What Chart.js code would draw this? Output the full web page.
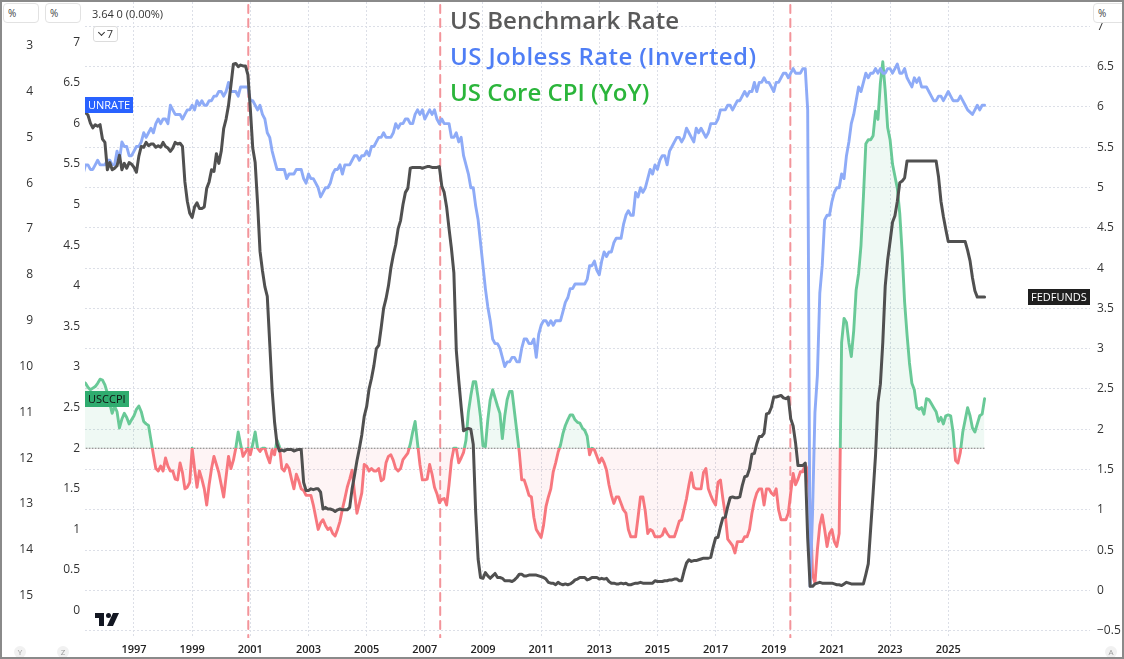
<!DOCTYPE html>
<html>
<head>
<meta charset="utf-8">
<script src="https://cdn.jsdelivr.net/npm/chart.js@4.4.1/dist/chart.umd.min.js"></script>
<style>
  html, body { margin: 0; padding: 0; background: #fff; }
  #wrap { position: relative; width: 1124px; height: 659px; overflow: hidden; font-family: "Open Sans", sans-serif; }
  #chart { position: absolute; left: 0; top: 0; }
  .frame { position: absolute; left: 0; top: 0; width: 1120px; height: 655px; border: 2px solid #8a8a8a; pointer-events: none; }
  .unit { position: absolute; top: 3px; height: 20px; box-sizing: border-box; border: 1px solid #e2e2e2; border-radius: 4px; background: #fff; font-size: 10px; color: #444; line-height: 18px; padding-left: 4px; }
  .legend { position: absolute; left: 92px; top: 6px; font-size: 11px; color: #333; }
  .interval { position: absolute; left: 93px; top: 26px; width: 25px; height: 16px; box-sizing: border-box; border: 1px solid #dcdcdc; border-radius: 3px; font-size: 11px; color: #333; line-height: 14px; text-align: right; padding-right: 4px; }
  .interval i { position: absolute; left: 5px; top: 3px; width: 4px; height: 4px; border-right: 1.3px solid #333; border-bottom: 1.3px solid #333; transform: rotate(45deg); }
  .title { position: absolute; left: 450px; top: 2px; font-size: 24px; font-weight: 600; line-height: 36px; white-space: nowrap; }
  .btn { position: absolute; top: 646px; width: 12px; height: 12px; border-radius: 6px; background: #f1f1f1; color: #9a9a9a; font-size: 8px; line-height: 12px; text-align: center; }
</style>
</head>
<body>
<div id="wrap">
  <canvas id="chart" width="1124" height="659"></canvas>
  <div class="title">
    <div style="color:#5a5a5a">US Benchmark Rate</div>
    <div style="color:#4f7ef5;letter-spacing:0.4px">US Jobless Rate (Inverted)</div>
    <div style="color:#2bb53b">US Core CPI (YoY)</div>
  </div>
  <div class="unit" style="left:3px;width:36px">%</div>
  <div class="unit" style="left:45px;width:36px">%</div>
  <div class="unit" style="left:1093px;width:40px">%</div>
  <div class="legend">3.64 0 (0.00%)</div>
  <div class="interval"><i></i>7</div>
  <div class="btn" style="left:14px">Y</div>
  <div class="btn" style="left:57px">Z</div>
  <div class="btn" style="left:1105px">A</div>
  <div class="frame"></div>
</div>
<script>
// monthly observations, first one is April 1995
const startYear = 1995;
const startMonth = 4;

const fedFunds = [
  5.95, 5.93, 5.90, 5.80, 5.74, 5.78, 5.76, 5.78, 5.60,
  5.56, 5.22, 5.31, 5.22, 5.24, 5.27, 5.40, 5.22, 5.30, 5.24, 5.31, 5.29,
  5.25, 5.19, 5.39, 5.51, 5.50, 5.56, 5.52, 5.54, 5.54, 5.50, 5.52, 5.50,
  5.56, 5.51, 5.49, 5.45, 5.49, 5.56, 5.54, 5.55, 5.51, 5.07, 4.83, 4.68,
  4.63, 4.76, 4.81, 4.74, 4.74, 4.76, 4.99, 5.07, 5.22, 5.20, 5.42, 5.30,
  5.45, 5.73, 5.85, 6.02, 6.27, 6.53, 6.54, 6.50, 6.52, 6.51, 6.51, 6.40,
  5.98, 5.49, 5.31, 4.80, 4.21, 3.97, 3.77, 3.65, 3.07, 2.49, 2.09, 1.82,
  1.73, 1.74, 1.73, 1.75, 1.75, 1.75, 1.73, 1.74, 1.75, 1.75, 1.34, 1.24,
  1.24, 1.26, 1.25, 1.26, 1.26, 1.22, 1.01, 1.03, 1.01, 1.01, 1.00, 0.98,
  1.00, 1.01, 1.00, 1.00, 1.00, 1.03, 1.26, 1.43, 1.61, 1.76, 1.93, 2.16,
  2.28, 2.50, 2.63, 2.79, 3.00, 3.04, 3.26, 3.50, 3.62, 3.78, 4.00, 4.16,
  4.29, 4.49, 4.59, 4.79, 4.94, 4.99, 5.24, 5.25, 5.25, 5.25, 5.25, 5.24,
  5.25, 5.26, 5.26, 5.25, 5.25, 5.25, 5.26, 5.02, 4.94, 4.76, 4.49, 4.24,
  3.94, 2.98, 2.61, 2.28, 1.98, 2.00, 2.01, 2.00, 1.81, 0.97, 0.39, 0.16,
  0.15, 0.22, 0.18, 0.15, 0.18, 0.21, 0.16, 0.16, 0.15, 0.12, 0.12, 0.12,
  0.11, 0.13, 0.16, 0.20, 0.20, 0.18, 0.18, 0.19, 0.19, 0.19, 0.19, 0.18,
  0.17, 0.16, 0.14, 0.10, 0.09, 0.09, 0.07, 0.10, 0.08, 0.07, 0.08, 0.07,
  0.08, 0.10, 0.13, 0.14, 0.16, 0.16, 0.16, 0.13, 0.14, 0.16, 0.16, 0.16,
  0.14, 0.15, 0.14, 0.15, 0.11, 0.09, 0.09, 0.08, 0.08, 0.09, 0.08, 0.09,
  0.07, 0.07, 0.08, 0.09, 0.09, 0.10, 0.09, 0.09, 0.09, 0.09, 0.09, 0.12,
  0.11, 0.11, 0.11, 0.12, 0.12, 0.13, 0.13, 0.14, 0.14, 0.12, 0.12, 0.24,
  0.34, 0.38, 0.36, 0.37, 0.37, 0.38, 0.39, 0.40, 0.40, 0.40, 0.41, 0.54,
  0.65, 0.66, 0.79, 0.90, 0.91, 1.04, 1.15, 1.16, 1.15, 1.15, 1.16, 1.30,
  1.41, 1.42, 1.51, 1.69, 1.70, 1.82, 1.91, 1.91, 1.95, 2.19, 2.20, 2.27,
  2.40, 2.40, 2.41, 2.42, 2.39, 2.38, 2.40, 2.13, 2.04, 1.83, 1.55, 1.55,
  1.55, 1.58, 0.65, 0.05, 0.05, 0.08, 0.09, 0.10, 0.09, 0.09, 0.09, 0.09,
  0.09, 0.08, 0.07, 0.07, 0.06, 0.08, 0.10, 0.09, 0.08, 0.08, 0.08, 0.08,
  0.08, 0.08, 0.20, 0.33, 0.77, 1.21, 1.68, 2.33, 2.56, 3.08, 3.78, 4.10,
  4.33, 4.57, 4.65, 4.83, 5.06, 5.08, 5.12, 5.33, 5.33, 5.33, 5.33, 5.33,
  5.33, 5.33, 5.33, 5.33, 5.33, 5.33, 5.33, 5.33, 5.13, 4.83, 4.64, 4.48,
  4.33, 4.33, 4.33, 4.33, 4.33, 4.33, 4.33, 4.33, 4.22, 4.09, 3.88, 3.72,
  3.64, 3.64, 3.64, 3.64
];

const unRate = [
  5.8, 5.6, 5.6, 5.7, 5.7, 5.6, 5.5, 5.6, 5.6,
  5.6, 5.5, 5.5, 5.6, 5.6, 5.3, 5.5, 5.1, 5.2, 5.2, 5.4, 5.4,
  5.3, 5.2, 5.2, 5.1, 4.9, 5.0, 4.9, 4.8, 4.9, 4.7, 4.6, 4.7,
  4.6, 4.6, 4.7, 4.3, 4.4, 4.5, 4.5, 4.5, 4.6, 4.5, 4.4, 4.4,
  4.3, 4.4, 4.2, 4.3, 4.2, 4.3, 4.3, 4.2, 4.2, 4.1, 4.1, 4.0,
  4.0, 4.1, 4.0, 3.8, 4.0, 4.0, 4.0, 4.1, 3.9, 3.9, 3.9, 3.9,
  4.2, 4.2, 4.3, 4.4, 4.3, 4.5, 4.6, 4.9, 5.0, 5.3, 5.5, 5.7,
  5.7, 5.7, 5.7, 5.9, 5.8, 5.8, 5.8, 5.7, 5.7, 5.7, 5.9, 6.0,
  5.8, 5.9, 5.9, 6.0, 6.1, 6.3, 6.2, 6.1, 6.1, 6.0, 5.8, 5.7,
  5.7, 5.6, 5.8, 5.6, 5.6, 5.6, 5.5, 5.4, 5.4, 5.5, 5.4, 5.4,
  5.3, 5.4, 5.2, 5.2, 5.1, 5.0, 5.0, 4.9, 5.0, 5.0, 5.0, 4.9,
  4.7, 4.8, 4.7, 4.7, 4.6, 4.6, 4.7, 4.7, 4.5, 4.4, 4.5, 4.4,
  4.6, 4.5, 4.4, 4.5, 4.4, 4.6, 4.7, 4.6, 4.7, 4.7, 4.7, 5.0,
  5.0, 4.9, 5.1, 5.0, 5.4, 5.6, 5.8, 6.1, 6.1, 6.5, 6.8, 7.3,
  7.8, 8.3, 8.7, 9.0, 9.4, 9.5, 9.5, 9.6, 9.8, 10.0, 9.9, 9.9,
  9.8, 9.8, 9.9, 9.9, 9.6, 9.4, 9.4, 9.5, 9.5, 9.4, 9.8, 9.3,
  9.1, 9.0, 9.0, 9.1, 9.0, 9.1, 9.0, 9.0, 9.0, 8.8, 8.6, 8.5,
  8.3, 8.3, 8.2, 8.2, 8.2, 8.2, 8.2, 8.1, 7.8, 7.8, 7.7, 7.9,
  8.0, 7.7, 7.5, 7.6, 7.5, 7.5, 7.3, 7.2, 7.2, 7.2, 6.9, 6.7,
  6.6, 6.7, 6.7, 6.2, 6.3, 6.1, 6.2, 6.1, 5.9, 5.7, 5.8, 5.6,
  5.7, 5.5, 5.4, 5.4, 5.6, 5.3, 5.2, 5.1, 5.0, 5.0, 5.1, 5.0,
  4.8, 4.9, 5.0, 5.1, 4.8, 4.9, 4.8, 4.9, 5.0, 4.9, 4.7, 4.7,
  4.7, 4.6, 4.4, 4.4, 4.4, 4.3, 4.3, 4.4, 4.3, 4.2, 4.2, 4.1,
  4.0, 4.1, 4.0, 4.0, 3.8, 4.0, 3.8, 3.8, 3.7, 3.8, 3.8, 3.9,
  4.0, 3.8, 3.8, 3.7, 3.6, 3.6, 3.7, 3.6, 3.5, 3.6, 3.6, 3.6,
  3.5, 3.5, 4.4, 14.8, 13.2, 11.0, 10.2, 8.4, 7.8, 6.8, 6.7, 6.7,
  6.4, 6.2, 6.1, 6.1, 5.8, 5.9, 5.4, 5.1, 4.7, 4.5, 4.2, 3.9,
  4.0, 3.8, 3.6, 3.7, 3.6, 3.6, 3.5, 3.6, 3.5, 3.6, 3.6, 3.5,
  3.5, 3.6, 3.5, 3.4, 3.6, 3.6, 3.5, 3.7, 3.8, 3.9, 3.7, 3.8,
  3.7, 3.9, 3.9, 3.9, 4.0, 4.1, 4.2, 4.2, 4.1, 4.1, 4.2, 4.1,
  4.0, 4.1, 4.2, 4.2, 4.2, 4.1, 4.2, 4.3, 4.4, 4.45, 4.5, 4.4,
  4.3, 4.4, 4.3, 4.3
];

const coreCpi = [
  2.82, 2.80, 2.75, 2.72, 2.74, 2.76, 2.80, 2.85, 2.84,
  2.78, 2.68, 2.55, 2.43, 2.52, 2.45, 2.25, 2.36, 2.43, 2.38, 2.30, 2.35,
  2.40, 2.48, 2.52, 2.45, 2.33, 2.30, 2.28, 2.10, 1.92, 1.75, 1.72, 1.78,
  1.72, 1.88, 1.78, 1.72, 1.72, 1.62, 1.61, 1.82, 1.70, 1.50, 1.52, 1.58,
  2.00, 1.75, 1.52, 1.72, 1.62, 1.50, 1.30, 1.55, 1.75, 1.90, 1.80, 1.70,
  1.55, 1.40, 1.65, 1.90, 1.75, 1.85, 2.00, 2.20, 2.05, 1.90, 1.95, 2.00,
  1.92, 2.05, 2.20, 2.00, 1.96, 2.00, 2.00, 1.90, 1.82, 1.98, 1.92, 2.10,
  2.02, 1.75, 1.72, 1.80, 1.75, 1.62, 1.50, 1.68, 1.60, 1.50, 1.48, 1.42,
  1.42, 1.42, 1.30, 1.15, 1.00, 1.08, 1.12, 1.05, 1.00, 1.02, 0.95, 0.92,
  1.00, 1.10, 1.25, 1.38, 1.52, 1.62, 1.73, 1.45, 1.20, 1.32, 1.45, 1.80,
  1.78, 1.72, 1.75, 1.72, 1.72, 1.75, 1.60, 1.62, 1.82, 1.90, 1.92, 1.85,
  1.75, 1.72, 1.75, 1.86, 1.90, 1.94, 2.05, 2.20, 2.33, 2.06, 1.80, 1.61,
  1.61, 1.62, 1.80, 1.68, 1.52, 1.44, 1.33, 1.37, 1.38, 1.30, 1.55, 1.85,
  2.00, 2.00, 1.82, 1.88, 1.95, 2.10, 2.45, 2.65, 2.82, 2.82, 2.62, 2.38,
  2.03, 2.02, 2.35, 2.60, 2.72, 2.62, 2.52, 2.43, 2.12, 2.40, 2.60, 2.70,
  2.70, 2.45, 2.20, 1.95, 1.61, 1.61, 1.52, 1.42, 1.40, 1.15, 1.00, 0.95,
  0.90, 1.05, 1.28, 1.40, 1.50, 1.71, 1.82, 1.95, 2.04, 2.18, 2.28, 2.35,
  2.41, 2.41, 2.35, 2.32, 2.31, 2.25, 2.22, 2.15, 1.92, 2.00, 1.98, 1.90,
  1.82, 1.88, 1.82, 1.73, 1.55, 1.42, 1.32, 1.40, 1.40, 1.32, 1.24, 1.20,
  1.00, 0.91, 0.91, 0.91, 1.15, 1.40, 1.40, 1.22, 0.95, 1.00, 0.98, 0.91,
  0.91, 0.91, 0.93, 1.01, 0.95, 0.91, 0.91, 0.91, 1.00, 1.10, 1.12, 1.25,
  1.38, 1.55, 1.70, 1.52, 1.50, 1.50, 1.50, 1.70, 1.75, 1.50, 1.42, 1.35,
  1.30, 1.58, 1.61, 1.38, 1.18, 0.88, 0.84, 0.80, 0.71, 0.85, 0.85, 0.85,
  0.91, 0.91, 1.00, 1.20, 1.35, 1.45, 1.50, 1.50, 1.30, 1.50, 1.50, 1.45,
  1.42, 1.50, 1.24, 1.12, 1.12, 1.12, 1.20, 1.45, 1.69, 1.55, 1.62, 1.71,
  1.71, 1.80, 1.73, 1.30, 0.45, 0.34, 0.75, 1.05, 1.18, 1.00, 0.79, 0.95,
  1.00, 0.85, 0.79, 0.95, 3.30, 3.60, 3.55, 3.30, 3.13, 3.45, 3.95, 4.15,
  4.50, 5.10, 5.75, 5.80, 5.80, 5.85, 6.15, 6.05, 6.50, 6.76, 6.40, 5.95,
  5.80, 5.50, 5.35, 5.20, 4.89, 4.40, 3.80, 3.40, 3.05, 2.80, 2.72, 2.50,
  2.48, 2.50, 2.42, 2.61, 2.60, 2.55, 2.50, 2.45, 2.33, 2.38, 2.30, 2.40,
  2.41, 2.40, 2.20, 1.85, 1.82, 1.95, 2.20, 2.35, 2.50, 2.40, 2.25, 2.20,
  2.30, 2.40, 2.42, 2.61
];

const cpiBase = 2;
const cutDates = [2000.93, 2007.53, 2019.57];   // first rate cuts, as decimal years
const yearTicks = [1997, 1999, 2001, 2003, 2005, 2007, 2009, 2011, 2013, 2015, 2017, 2019, 2021, 2023, 2025];
const fedTicks = [-0.5, 0, 0.5, 1, 1.5, 2, 2.5, 3, 3.5, 4, 4.5, 5, 5.5, 6, 6.5, 7];
const cpiTicks = [0, 0.5, 1, 1.5, 2, 2.5, 3, 3.5, 4, 4.5, 5, 5.5, 6, 6.5, 7];
const unrateTicks = [3, 4, 5, 6, 7, 8, 9, 10, 11, 12, 13, 14, 15];

const monthX = fedFunds.map((_, i) => startYear + (startMonth - 1 + i) / 12);
const pts = arr => arr.map((v, i) => ({ x: monthX[i], y: v }));
const last = arr => arr[arr.length - 1];

const cpiUp = '#69c997';
const cpiDown = '#f7777e';
const font = '"Open Sans", sans-serif';

function cpiStroke(ctx) {
  const chart = ctx.chart;
  const area = chart.chartArea;
  if (!area) return cpiUp;
  const yb = chart.scales.yC.getPixelForValue(cpiBase);
  const s = Math.min(1, Math.max(0, (yb - area.top) / (area.bottom - area.top)));
  const g = chart.ctx.createLinearGradient(0, area.top, 0, area.bottom);
  g.addColorStop(0, cpiUp);
  g.addColorStop(s, cpiUp);
  g.addColorStop(s, cpiDown);
  g.addColorStop(1, cpiDown);
  return g;
}

const plain = v => (v < 0 ? '\u2212' + Math.abs(v) : String(v));
const fixW = w => s => { s.width = w; s.paddingTop = 0; s.paddingBottom = 0; };
const setTicks = list => s => { s.ticks = list.map(v => ({ value: v })); };

const tags = [
  { text: 'UNRATE', axis: 'yU', value: last(unRate), bg: '#2962ff', fg: '#fff', side: 'left' },
  { text: 'USCCPI', axis: 'yC', value: last(coreCpi), bg: '#2fac6f', fg: '#111', side: 'left' },
  { text: 'FEDFUNDS', axis: 'yF', value: last(fedFunds), bg: '#1f1f1f', fg: '#fff', side: 'right' }
];

const tagPlugin = {
  id: 'tags',
  afterDatasetsDraw(chart) {
    const c = chart.ctx, a = chart.chartArea;
    c.save();
    c.font = '500 11px ' + font;
    c.textBaseline = 'middle';
    tags.forEach(t => {
      const y = Math.round(chart.scales[t.axis].getPixelForValue(t.value));
      const w = Math.round(c.measureText(t.text).width + 6);
      const x = t.side === 'left' ? a.left : a.right - w;
      c.fillStyle = t.bg;
      c.fillRect(x, y - 8, w, 16);
      c.fillStyle = t.fg;
      c.fillText(t.text, x + 3, y + 0.5);
    });
    c.restore();
  }
};

// small tradingview mark in the lower left corner
const logoPlugin = {
  id: 'logo',
  afterDraw(chart) {
    const c = chart.ctx;
    const x = chart.chartArea.left + 10, y = chart.chartArea.bottom - 25;
    c.save();
    c.fillStyle = '#131722';
    c.fillRect(x, y, 9, 5);
    c.fillRect(x + 4, y, 5, 13);
    c.beginPath();
    c.arc(x + 13.5, y + 2.5, 2.5, 0, Math.PI * 2);
    c.fill();
    c.beginPath();
    c.moveTo(x + 18, y);
    c.lineTo(x + 24, y);
    c.lineTo(x + 18, y + 13);
    c.lineTo(x + 12, y + 13);
    c.closePath();
    c.fill();
    c.restore();
  }
};

const datasets = [
  { data: pts(fedFunds), yAxisID: 'yF', borderColor: '#505050', borderWidth: 3, order: 0 },
  { data: pts(unRate), yAxisID: 'yU', borderColor: '#8eabf7', borderWidth: 2.9, order: 1 },
  {
    data: pts(coreCpi), yAxisID: 'yC', borderColor: cpiStroke, borderWidth: 2.9, order: 2,
    fill: { target: { value: cpiBase }, above: 'rgba(105,201,151,0.11)', below: 'rgba(247,119,126,0.08)' }
  },
  {
    data: [{ x: monthX[0], y: cpiBase }, { x: last(monthX), y: cpiBase }], yAxisID: 'yC',
    borderColor: '#777', borderWidth: 1, borderDash: [1, 2], order: 3
  }
];
cutDates.forEach(d => datasets.push({
  data: [{ x: d, y: -1 }, { x: d, y: 8 }], yAxisID: 'yF',
  borderColor: '#f3949a', borderWidth: 2, borderDash: [8, 6], order: 4
}));

new Chart(document.getElementById('chart'), {
  type: 'line',
  data: { datasets },
  options: {
    responsive: false,
    animation: false,
    layout: { padding: { top: 2, left: 0, right: 0, bottom: 0 } },
    elements: { point: { radius: 0 }, line: { tension: 0, borderJoinStyle: 'round', borderCapStyle: 'round' } },
    plugins: { legend: { display: false }, tooltip: { enabled: false } },
    scales: {
      x: {
        type: 'linear', min: 1995.315, max: 2029.875,
        afterBuildTicks: setTicks(yearTicks),
        afterFit: s => { s.height = 21; s.paddingLeft = 0; s.paddingRight = 0; },
        grid: { color: '#dcdfe7', drawTicks: false },
        border: { display: false, dash: [2, 2] },
        ticks: { padding: 5, color: '#222', font: { family: font, size: 11, weight: '600' }, maxRotation: 0, autoSkip: false, callback: v => String(v) }
      },
      yU: {
        type: 'linear', position: 'left', reverse: true, min: 2.0465, max: 15.924, weight: 2,
        afterBuildTicks: setTicks(unrateTicks),
        afterFit: fixW(45),
        grid: { display: false, drawTicks: false },
        border: { display: false },
        ticks: { padding: 12, color: '#333', font: { family: font, size: 12 }, callback: plain }
      },
      yC: {
        type: 'linear', position: 'left', min: -0.337, max: 7.496, weight: 1,
        afterBuildTicks: setTicks(cpiTicks),
        afterFit: fixW(40),
        grid: { display: false, drawTicks: false },
        border: { display: false },
        ticks: { padding: 5, color: '#333', font: { family: font, size: 12 }, callback: plain }
      },
      yF: {
        type: 'linear', position: 'right', min: -0.591, max: 7.303,
        afterBuildTicks: setTicks(fedTicks),
        afterFit: fixW(34),
        grid: { color: '#dcdfe7', drawTicks: false },
        border: { display: false, dash: [2, 2] },
        ticks: { padding: 7, color: '#333', font: { family: font, size: 12 }, callback: plain }
      }
    }
  },
  plugins: [tagPlugin, logoPlugin]
});
</script>
</body>
</html>
